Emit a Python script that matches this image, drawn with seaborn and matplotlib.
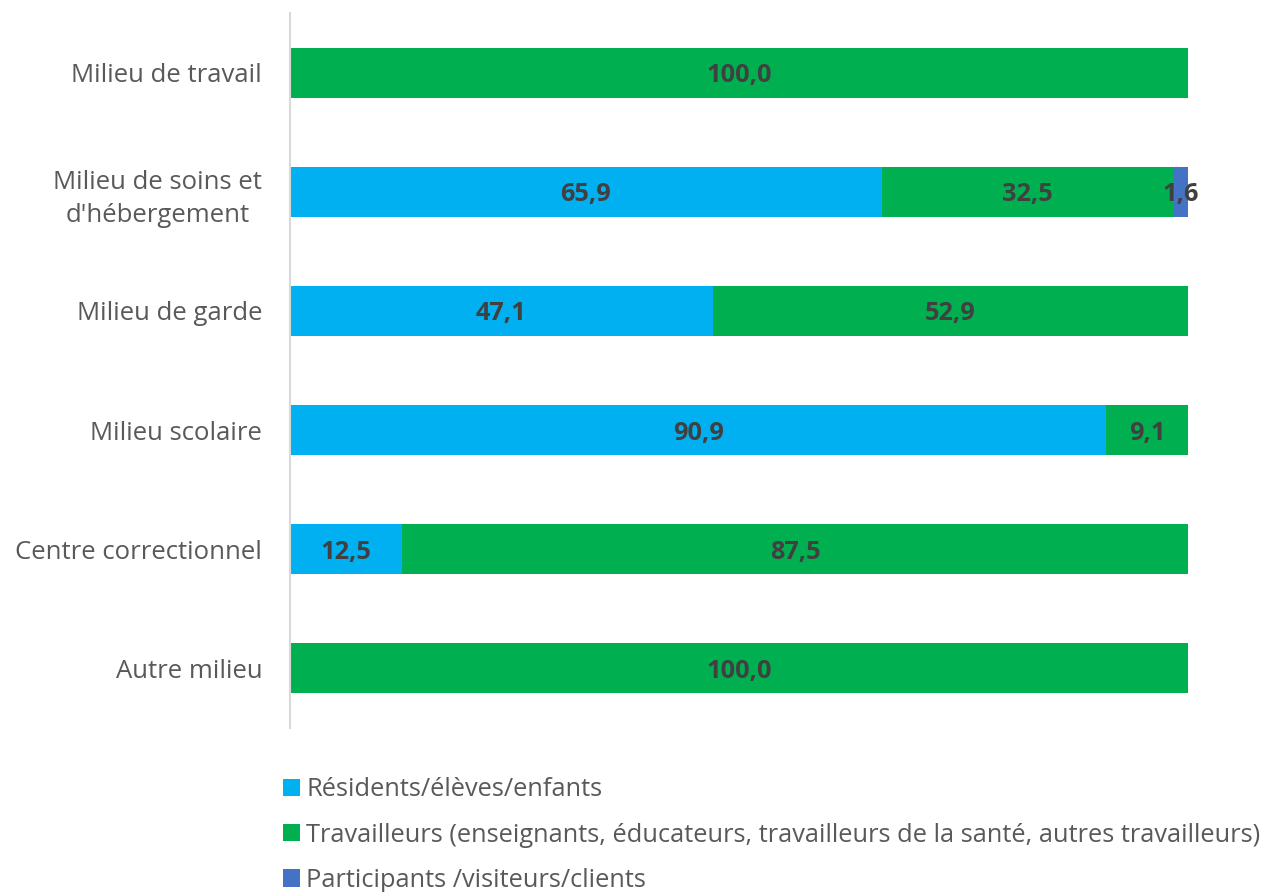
import matplotlib
matplotlib.use("Agg")
import matplotlib.pyplot as plt
import seaborn as sns
import pandas as pd
import numpy as np
from matplotlib.patches import Patch

categories = [
    "Milieu de travail",
    "Milieu de soins et\nd'hébergement",
    "Milieu de garde",
    "Milieu scolaire",
    "Centre correctionnel",
    "Autre milieu",
]
residents = [0, 65.9, 47.1, 90.9, 12.5, 0]
travailleurs = [100, 32.5, 52.9, 9.1, 87.5, 100]
participants = [0, 1.6, 0, 0, 0, 0]

series_names = [
    "Résidents/élèves/enfants",
    "Travailleurs (enseignants, éducateurs, travailleurs de la santé, autres travailleurs)",
    "Participants /visiteurs/clients",
]
colors = ["#00B0F0", "#00B050", "#4472C4"]

sns.set_theme(style="white")
plt.rcParams["font.family"] = ["Open Sans", "DejaVu Sans"]

df = pd.DataFrame({
    "milieu": categories,
    "res": residents,
    "trav": travailleurs,
    "part": participants,
})
df["cum1"] = df["res"]
df["cum2"] = df["res"] + df["trav"]
df["cum3"] = df["cum2"] + df["part"]

fig = plt.figure(figsize=(12.74, 8.92), dpi=100)
ax = fig.add_axes([0.2276, 0.1839, 0.9325 - 0.2276, 0.9854 - 0.1839])

# empilement : on dessine les totaux cumulés du plus long au plus court
for col, c in zip(["cum3", "cum2", "cum1"], colors[::-1]):
    sns.barplot(data=df, y="milieu", x=col, orient="h", color=c,
                width=0.42, saturation=1, ax=ax, linewidth=0)

# étiquettes de valeurs
for i in range(len(categories)):
    left = 0
    for vals in (residents, travailleurs, participants):
        v = vals[i]
        if v > 0:
            ax.text(left + v / 2, i, f"{v:.1f}".replace(".", ","),
                    ha="center", va="center_baseline", fontsize=18.3,
                    fontweight="bold", color="#404040")
        left += v

ax.set_xlim(0, 100)
ax.set_ylim(5.5, -0.5)
ax.set_xlabel("")
ax.set_ylabel("")
ax.set_xticks([])
ax.tick_params(axis="y", length=0, pad=20, labelsize=18.5, labelcolor="#595959")
for lab in ax.get_yticklabels():
    lab.set_multialignment("center")
    lab.set_linespacing(1.45)

for s in ["top", "right", "bottom"]:
    ax.spines[s].set_visible(False)
ax.spines["left"].set_color("#D9D9D9")
ax.spines["left"].set_linewidth(1.5)

handles = [Patch(facecolor=c, edgecolor="none") for c in colors]
fig.legend(handles, series_names, loc="upper left", bbox_to_anchor=(0.214, 0.140),
           frameon=False, fontsize=18.3, labelcolor="#595959",
           handlelength=0.68, handleheight=0.68, handletextpad=0.25,
           labelspacing=0.80, borderaxespad=0)

fig.savefig("out.png", dpi=100)
